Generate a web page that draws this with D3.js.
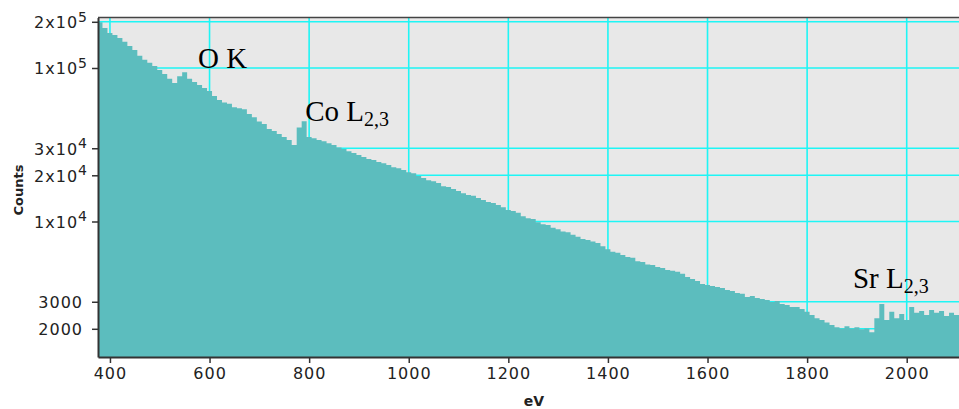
<!DOCTYPE html>
<html>
<head>
<meta charset="utf-8">
<script src="https://cdn.jsdelivr.net/npm/d3@7"></script>
<style>
body { margin: 0; background: #fff; }
svg { display: block; }
</style>
</head>
<body>
<div id="chart"></div>
<script>
// spectrum counts, 10 eV bins centred on 380 ... 2100 eV
var counts = [
	199000, 182000, 169000, 164000, 157000, 148000, 139000, 131000, 120000, 113000,
	108000, 103000, 97000, 91500, 85000, 79800, 88500, 94000, 85000, 81000,
	77500, 74000, 70800, 65800, 61900, 59600, 58400, 55600, 54600, 53800,
	50200, 47800, 44900, 43100, 40000, 38800, 37100, 35500, 34000, 31500,
	41000, 45000, 35500, 34800, 34000, 33300, 32400, 31500, 30400, 29700,
	28700, 27900, 27100, 26300, 25500, 25200, 24400, 24000, 23300, 22600,
	22200, 21650, 20900, 20600, 19800, 19200, 18600, 18300, 17800, 17000,
	16800, 16300, 15800, 15300, 14900, 14700, 14200, 13800, 13400, 13200,
	12800, 12400, 11900, 11700, 11400, 10800, 10500, 10400, 9900, 9600,
	9500, 9100, 8900, 8600, 8500, 8200, 7950, 7700, 7580, 7400,
	7250, 6900, 6600, 6350, 6250, 6050, 5880, 5800, 5500, 5450,
	5250, 5210, 5050, 4970, 4830, 4770, 4700, 4560, 4350, 4220,
	4100, 3920, 3860, 3800, 3750, 3690, 3580, 3530, 3420, 3380,
	3220, 3270, 3170, 3130, 3080, 2990, 3030, 2900, 2860, 2770,
	2770, 2690, 2580, 2460, 2340, 2280, 2200, 2120, 2050, 2010,
	2080, 2010, 2050, 1990, 2010, 1900, 2340, 2900, 2280, 2580,
	2340, 2500, 2280, 2770, 2540, 2610, 2460, 2650, 2540, 2610,
	2420, 2540, 2460
]
var binWidth = 10
var energies = d3.range(380, 2101, binWidth)

var xTicks = [400, 600, 800, 1000, 1200, 1400, 1600, 1800, 2000]
var yTicks = [2000, 3000, 10000, 20000, 30000, 100000, 200000]

// peak labels, anchored in data units (eV, counts)
var peakNames = ["O K", "Co L", "Sr L"]
var peakSubs = ["", "2,3", "2,3"]
var peakEv = [577, 792, 1892]
var peakCounts = [100000, 45150, 3690]

var w = 959, h = 409
var m = {l: 98, r: 0, t: 17.5, b: 52}

var svg = d3.select("#chart")
	.append("svg")
	.attr("width", w)
	.attr("height", h)
	.style("font-family", "'DejaVu Sans', Verdana, sans-serif")

var x = d3.scaleLinear()
	.domain([376, 2105])
	.range([m.l, w - m.r])

var y = d3.scaleLog()
	.domain([1310, 213300])
	.range([h - m.b, m.t])

svg.append("defs").append("clipPath")
	.attr("id", "plot")
	.append("rect")
	.attr("x", m.l)
	.attr("y", m.t)
	.attr("width", w - m.l - m.r)
	.attr("height", h - m.b - m.t)

// plot background
svg.append("rect")
	.attr("x", m.l)
	.attr("y", m.t)
	.attr("width", w - m.l - m.r)
	.attr("height", h - m.b - m.t)
	.attr("fill", "#e8e8e8")

// grid
var grid = svg.append("g").attr("clip-path", "url(#plot)")
	.attr("stroke", "#1ef5f5")
	.attr("stroke-width", 1.6)

grid.selectAll(".gx")
	.data(xTicks)
	.enter().append("line")
	.attr("x1", d => x(d)).attr("x2", d => x(d))
	.attr("y1", m.t).attr("y2", h - m.b)

grid.selectAll(".gy")
	.data(yTicks)
	.enter().append("line")
	.attr("x1", m.l).attr("x2", w)
	.attr("y1", d => y(d)).attr("y2", d => y(d))

// spectrum as step area
var pts = energies.map((e, i) => [e - binWidth / 2, counts[i]])
pts.push([energies[energies.length - 1] + binWidth / 2, counts[counts.length - 1]])

var area = d3.area()
	.curve(d3.curveStepAfter)
	.x(d => x(d[0]))
	.y0(h - m.b)
	.y1(d => y(d[1]))

svg.append("path")
	.attr("clip-path", "url(#plot)")
	.attr("d", area(pts))
	.attr("fill", "#5cbdbe")

// axes
var xAxis = d3.axisBottom(x)
	.tickValues(xTicks)
	.tickSize(6)
	.tickSizeOuter(0)
	.tickPadding(5)
	.tickFormat(d3.format("d"))

var gx = svg.append("g")
	.attr("transform", "translate(0," + (h - m.b) + ")")
	.call(xAxis)
	.attr("font-size", null)
	.attr("font-family", null)

var yAxis = d3.axisLeft(y)
	.tickValues(yTicks)
	.tickSize(6)
	.tickSizeOuter(0)
	.tickFormat("")

var gy = svg.append("g")
	.attr("transform", "translate(" + m.l + ",0)")
	.call(yAxis)
	.attr("font-size", null)
	.attr("font-family", null)

svg.selectAll(".domain").attr("stroke", "#333").attr("stroke-width", 2)
svg.selectAll(".tick line").attr("stroke", "#333").attr("stroke-width", 1.5)
gx.selectAll("text")
	.attr("fill", "#222")
	.style("font-size", "16px")
	.style("letter-spacing", "1px")

// y labels with powers of ten
gy.selectAll(".tick").each(function(d) {
	var e = Math.floor(Math.log10(d) + 1e-9)
	var t = d3.select(this).append("text")
		.attr("x", -10)
		.attr("dy", "0.36em")
		.attr("text-anchor", "end")
		.attr("fill", "#222")
		.style("font-size", "16px")
		.style("letter-spacing", "1px")
	if (d < 10000) {
		t.attr("x", -15).text(d)
	} else {
		t.append("tspan").text(d / Math.pow(10, e) + "x10")
		t.append("tspan").attr("dy", "-0.45em").style("font-size", "14px").text(e)
	}
})

// top frame line
svg.append("line")
	.attr("x1", m.l).attr("x2", w)
	.attr("y1", m.t).attr("y2", m.t)
	.attr("stroke", "#444")
	.attr("stroke-width", 1.5)

// axis titles
svg.append("text")
	.attr("transform", "translate(23," + 190 + ") rotate(-90)")
	.attr("text-anchor", "middle")
	.attr("fill", "#222")
	.style("font-size", "13px")
	.style("font-weight", "bold")
	.text("Counts")

svg.append("text")
	.attr("x", 534)
	.attr("y", 406)
	.attr("text-anchor", "middle")
	.attr("fill", "#222")
	.style("font-size", "14px")
	.style("font-weight", "bold")
	.text("eV")

// peak annotations
peakNames.forEach(function(name, i) {
	var t = svg.append("text")
		.attr("x", x(peakEv[i]))
		.attr("y", y(peakCounts[i]))
		.attr("fill", "#000")
		.style("font-family", "'Liberation Serif', 'Times New Roman', serif")
		.style("font-size", "29px")
	t.append("tspan").text(name)
	if (peakSubs[i]) {
		t.append("tspan")
			.attr("dy", 5)
			.style("font-size", "20px")
			.text(peakSubs[i])
	}
})
</script>
</body>
</html>
